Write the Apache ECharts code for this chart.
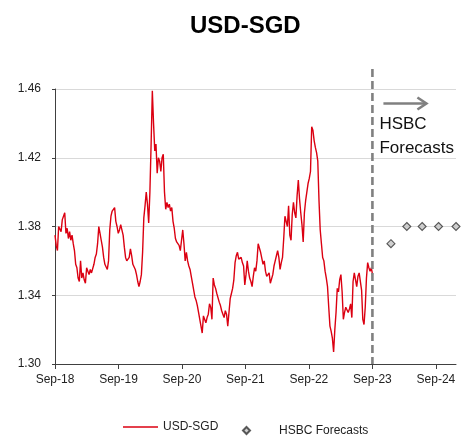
<!DOCTYPE html>
<html><head><meta charset="utf-8">
<script src="https://cdn.jsdelivr.net/npm/echarts@6/dist/echarts.min.js"></script>
<style>html,body{margin:0;padding:0;background:#fff}#c{width:464px;height:437px}</style>
</head><body><div id="c"></div>
<script>
const chartTitle = 'USD-SGD';
const seriesNames = ['USD-SGD', 'HSBC Forecasts'];
const annotationText = 'HSBC\nForecasts';
// x axis in months since Sep-2018
const xTickMonths = [0, 12, 24, 36, 48, 60, 72];
const xTickLabels = ['Sep-18', 'Sep-19', 'Sep-20', 'Sep-21', 'Sep-22', 'Sep-23', 'Sep-24'];
const yTickLabels = ['1.30', '1.34', '1.38', '1.42', '1.46'];
const xAxisEndMonth = 75.8;
const forecastStartMonth = 60;
// weekly spot readings, starting Sep-2018
const weeksPerYear = 52.18;
const usdSgdWeekly = [
1.375,1.369,1.366,1.380,1.381,1.377,1.384,1.386,1.388,1.376,
1.379,1.373,1.377,1.372,1.375,1.370,1.366,1.358,1.356,1.350,
1.348,1.360,1.350,1.353,1.349,1.347,1.356,1.357,1.352,1.355,
1.353,1.353,1.358,1.362,1.364,1.370,1.380,1.376,1.372,1.368,
1.362,1.358,1.357,1.355,1.360,1.378,1.386,1.389,1.388,1.391,
1.383,1.380,1.376,1.378,1.381,1.382,1.375,1.368,1.362,1.360,
1.359,1.362,1.367,1.363,1.358,1.357,1.355,1.352,1.348,1.345,
1.348,1.352,1.365,1.385,1.392,1.400,1.393,1.382,1.400,1.428,
1.459,1.440,1.424,1.428,1.411,1.420,1.418,1.412,1.420,1.422,
1.400,1.390,1.394,1.391,1.393,1.389,1.391,1.383,1.379,1.373,
1.371,1.372,1.369,1.366,1.372,1.378,1.370,1.360,1.365,1.360,
1.357,1.355,1.351,1.347,1.343,1.339,1.337,1.334,1.330,1.326,
1.322,1.318,1.328,1.329,1.324,1.327,1.329,1.335,1.333,1.326,
1.350,1.346,1.344,1.341,1.340,1.336,1.334,1.331,1.329,1.327,
1.331,1.329,1.322,1.330,1.338,1.341,1.344,1.349,1.359,1.363,
1.365,1.361,1.360,1.362,1.359,1.357,1.346,1.352,1.360,1.354,
1.350,1.348,1.345,1.351,1.356,1.354,1.360,1.370,1.371,1.365,
1.366,1.358,1.360,1.354,1.351,1.350,1.353,1.347,1.348,1.352,
1.357,1.360,1.363,1.366,1.362,1.355,1.359,1.362,1.373,1.386,
1.383,1.380,1.392,1.375,1.372,1.387,1.394,1.388,1.385,1.398,
1.407,1.396,1.388,1.381,1.371,1.388,1.395,1.400,1.405,1.408,
1.412,1.438,1.436,1.430,1.426,1.423,1.418,1.395,1.378,1.370,
1.362,1.360,1.354,1.350,1.345,1.333,1.322,1.319,1.315,1.307,
1.320,1.330,1.344,1.342,1.349,1.352,1.342,1.326,1.330,1.333,
1.334,1.330,1.332,1.335,1.327,1.348,1.353,1.352,1.345,1.351,
1.353,1.352,1.343,1.326,1.323,1.333,1.350,1.359,1.356,1.354,
1.356,1.352
];
const forecastMonths = [63.5, 66.5, 69.4, 72.5, 75.8];
const forecastValues = [1.37, 1.38, 1.38, 1.38, 1.38];

const FONT = "'Liberation Sans', Arial, sans-serif";
const RED = '#db0011';
const spotData = usdSgdWeekly.map((v, i) => [i * 12 / weeksPerYear, v]);
const fcData = forecastMonths.map((m, i) => [m, forecastValues[i]]);
const yTicks = yTickLabels.map(Number);

const chart = echarts.init(document.getElementById('c'), null, {renderer: 'canvas'});
chart.setOption({
  animation: false,
  backgroundColor: '#fff',
  textStyle: {fontFamily: FONT},
  title: {
    text: chartTitle, left: 185, top: 9,
    textStyle: {fontFamily: FONT, fontSize: 24, fontWeight: 'bold', color: '#000'}
  },
  grid: {left: 55, right: 8, top: 89, bottom: 73, containLabel: false},
  legend: [
    {data: [{name: seriesNames[0], icon: 'path://M0,0H100V4.3H0Z'}], left: 123, top: 421, padding: 0,
     itemWidth: 35, itemHeight: 14, itemGap: 0, symbolKeepAspect: true,
     textStyle: {fontFamily: FONT, fontSize: 12, color: '#222'}},
    {data: [{name: seriesNames[1], icon: 'path://M5,0L10,5L5,10L0,5Z'}], left: 242, top: 424.5, padding: 0,
     itemWidth: 7, itemHeight: 7, itemGap: 0, symbolKeepAspect: true,
     textStyle: {fontFamily: FONT, fontSize: 12, color: '#222', padding: [0, 0, 0, 24]}}
  ],
  xAxis: {
    type: 'value', min: 0, max: xAxisEndMonth, interval: 12,
    axisLine: {show: true, lineStyle: {color: '#404040', width: 1}},
    axisTick: {show: true, length: 5, lineStyle: {color: '#404040'}, customValues: xTickMonths},
    axisLabel: {
      customValues: xTickMonths, margin: 10, fontSize: 12, color: '#222', fontFamily: FONT,
      formatter: v => xTickLabels[xTickMonths.indexOf(Math.round(v))] || ''
    },
    splitLine: {show: false}
  },
  yAxis: {
    type: 'value', min: yTicks[0], max: yTicks[yTicks.length - 1], interval: 0.04,
    axisLine: {show: true, lineStyle: {color: '#404040', width: 1}},
    axisTick: {show: true, length: 3, lineStyle: {color: '#404040'}},
    axisLabel: {margin: 14, fontSize: 12, color: '#222', fontFamily: FONT, formatter: v => v.toFixed(2)},
    splitLine: {show: true, lineStyle: {color: '#d9d9d9', width: 1}}
  },
  series: [
    {
      name: seriesNames[0], type: 'line', data: spotData, symbol: 'none', showSymbol: false,
      lineStyle: {color: RED, width: 1.4}, itemStyle: {color: RED}, z: 3
    },
    {
      name: seriesNames[1], type: 'scatter', data: fcData, symbol: 'diamond', symbolSize: 8, clip: false,
      itemStyle: {color: '#c4c4c4', borderColor: '#333', borderWidth: 1.1}, z: 4
    }
  ]
});

// annotation: dashed separator, arrow and label, anchored to data coordinates
const pBottom = chart.convertToPixel({xAxisIndex: 0, yAxisIndex: 0}, [forecastStartMonth, yTicks[0]]);
const pTop = chart.convertToPixel({xAxisIndex: 0, yAxisIndex: 0}, [forecastStartMonth, yTicks[yTicks.length - 1]]);
const x0 = pBottom[0];
const yTop = pTop[1];
const arrowY = yTop + 14.5;
chart.setOption({
  graphic: [
    {type: 'line', z: 10, shape: {x1: x0, y1: yTop - 20, x2: x0, y2: pBottom[1]},
     style: {stroke: '#808080', lineWidth: 2.6, lineDash: [8, 4]}},
    {type: 'line', z: 10, shape: {x1: x0 + 11, y1: arrowY, x2: x0 + 53, y2: arrowY},
     style: {stroke: '#808080', lineWidth: 2.6}},
    {type: 'polyline', z: 10, shape: {points: [[x0 + 45, arrowY - 6], [x0 + 54, arrowY], [x0 + 45, arrowY + 6]]},
     style: {stroke: '#808080', lineWidth: 2.6, fill: null}},
    {type: 'text', z: 10, x: x0 + 7, y: yTop + 23,
     style: {text: annotationText, font: "17px 'Liberation Sans', Arial, sans-serif", fill: '#111', lineHeight: 24, verticalAlign: 'top'}}
  ]
});
</script>
</body></html>
